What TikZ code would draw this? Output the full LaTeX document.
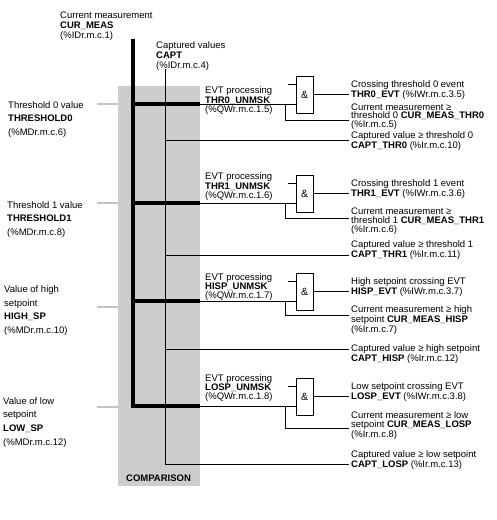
\documentclass[tikz,border=0pt]{standalone}
\usepackage{fontspec}
\setmainfont{Liberation Sans}
\definecolor{panel}{RGB}{205,205,205}
\definecolor{tick}{RGB}{195,195,195}
\begin{document}
\begin{tikzpicture}[x=1pt,y=-1pt,
  base/.style={inner sep=0pt, align=left, anchor=base west},
  rlab/.style={base, font=\fontsize{9.5}{8.7}\selectfont},
  ulab/.style={base, font=\fontsize{9.5}{9.3}\selectfont},
  tlab/.style={base, font=\fontsize{9.5}{10}\selectfont},
  llab/.style={base, font=\fontsize{9.5}{13.7}\selectfont},
  gate/.style={draw, line width=0.9pt, minimum width=17pt, minimum height=37pt, inner sep=0pt, font=\fontsize{10.5}{10.5}\selectfont},
  thick bus/.style={line width=3.5pt},
  thin/.style={line width=0.9pt},
  tickline/.style={draw=tick, line width=1.7pt}]
\useasboundingbox (0,0) rectangle (496,520);
\fill[panel] (118,86) rectangle (200,486);

% top labels (anchor = baseline of last line)
\node[tlab] (curmeas) at (60,38) {Current measurement\\\textbf{CUR\_MEAS}\\(\%IDr.m.c.1)};
\node[tlab] (capt) at (156,68) {Captured values\\\textbf{CAPT}\\(\%IDr.m.c.4)};

% left labels
\node[llab] (th0) at (8,135.4) {Threshold 0 value\\\textbf{THRESHOLD0}\\(\%MDr.m.c.6)};
\node[llab] (th1) at (7,235.4) {Threshold 1 value\\\textbf{THRESHOLD1}\\(\%MDr.m.c.8)};
\node[llab] (hisp) at (4,333.5) {Value of high\\setpoint\\\textbf{HIGH\_SP}\\(\%MDr.m.c.10)};
\node[llab] (losp) at (3,445.1) {Value of low\\setpoint\\\textbf{LOW\_SP}\\(\%MDr.m.c.12)};

\coordinate (t0a) at (97,104); \coordinate (t0b) at (118,104);
\coordinate (t1a) at (97,203); \coordinate (t1b) at (118,203);
\coordinate (t2a) at (97,307); \coordinate (t2b) at (118,307);
\coordinate (t3a) at (97,407); \coordinate (t3b) at (118,407);
\draw[tickline] (t0a) -- (t0b);
\draw[tickline] (t1a) -- (t1b);
\draw[tickline] (t2a) -- (t2b);
\draw[tickline] (t3a) -- (t3b);

\node[base, font=\fontsize{9.5}{10}\selectfont\bfseries] (cmp) at (126,481) {COMPARISON};

% bus coordinates
\coordinate (busTop) at (133,39);
\coordinate (b0) at (133,104); \coordinate (e0) at (200,104);
\coordinate (b1) at (133,203); \coordinate (e1) at (200,203);
\coordinate (b2) at (133,301); \coordinate (e2) at (200,301);
\coordinate (b3) at (133,406); \coordinate (e3) at (200,406);
\draw[thick bus] (busTop) -- (b3) -- (e3);
\draw[thick bus] (b0) -- (e0);
\draw[thick bus] (b1) -- (e1);
\draw[thick bus] (b2) -- (e2);

% captured values vertical
\coordinate (capTop) at (165.5,69);
\coordinate (c0) at (165.5,140); \coordinate (c1) at (165.5,255);
\coordinate (c2) at (165.5,349); \coordinate (c3) at (165.5,464);
\coordinate (ce0) at (349,140); \coordinate (ce1) at (349,255);
\coordinate (ce2) at (349,349); \coordinate (ce3) at (349,464);
\draw[thin] (capTop) -- (c3) -- (ce3);
\draw[thin] (c0) -- (ce0);
\draw[thin] (c1) -- (ce1);
\draw[thin] (c2) -- (ce2);

% UNMSK labels
\node[ulab] (u0) at (205,112.3) {EVT processing\\\textbf{THR0\_UNMSK}\\(\%QWr.m.c.1.5)};
\node[ulab] (u1) at (205,198.3) {EVT processing\\\textbf{THR1\_UNMSK}\\(\%QWr.m.c.1.6)};
\node[ulab] (u2) at (205,298.9) {EVT processing\\\textbf{HISP\_UNMSK}\\(\%QWr.m.c.1.7)};
\node[ulab] (u3) at (205,399.9) {EVT processing\\\textbf{LOSP\_UNMSK}\\(\%QWr.m.c.1.8)};

% gates
\node[gate] (g0) at (304.5,94.5) {\&};
\node[gate] (g1) at (304.5,193.5) {\&};
\node[gate] (g2) at (304.5,291.5) {\&};
\node[gate] (g3) at (304.5,396.5) {\&};

% gate 0 wiring
\coordinate (g0in) at (288,84);
\coordinate (g0br) at (285,104); \coordinate (g0bd) at (285,120); \coordinate (g0be) at (349,120);
\coordinate (g0o) at (349,94);
\draw[thin] (g0in) -- (g0in -| g0.west);
\draw[thin] (e0) -- (e0 -| g0.west);
\draw[thin] (g0br) -- (g0bd) -- (g0be);
\draw[thin] (g0o -| g0.east) -- (g0o);

% gate 1 wiring
\coordinate (g1in) at (288,183);
\coordinate (g1br) at (285,203); \coordinate (g1bd) at (285,218); \coordinate (g1be) at (349,218);
\coordinate (g1o) at (349,193);
\draw[thin] (g1in) -- (g1in -| g1.west);
\draw[thin] (e1) -- (e1 -| g1.west);
\draw[thin] (g1br) -- (g1bd) -- (g1be);
\draw[thin] (g1o -| g1.east) -- (g1o);

% gate 2 wiring
\coordinate (g2in) at (288,281);
\coordinate (g2br) at (285,301); \coordinate (g2bd) at (285,315); \coordinate (g2be) at (349,315);
\coordinate (g2o) at (349,291);
\draw[thin] (g2in) -- (g2in -| g2.west);
\draw[thin] (e2) -- (e2 -| g2.west);
\draw[thin] (g2br) -- (g2bd) -- (g2be);
\draw[thin] (g2o -| g2.east) -- (g2o);

% gate 3 wiring
\coordinate (g3in) at (288,386);
\coordinate (g3br) at (285,406); \coordinate (g3bd) at (285,428); \coordinate (g3be) at (349,428);
\coordinate (g3o) at (349,396);
\draw[thin] (g3in) -- (g3in -| g3.west);
\draw[thin] (e3) -- (e3 -| g3.west);
\draw[thin] (g3br) -- (g3bd) -- (g3be);
\draw[thin] (g3o -| g3.east) -- (g3o);

% right labels
\node[rlab] (ev0) at (351,97) {Crossing threshold 0 event\\\textbf{THR0\_EVT} (\%IWr.m.c.3.5)};
\node[rlab] (cm0) at (351,127.4) {Current measurement ≥\\threshold 0 \textbf{CUR\_MEAS\_THR0}\\(\%Ir.m.c.5)};
\node[rlab] (cv0) at (351,148.2) {Captured value ≥ threshold 0\\\textbf{CAPT\_THR0} (\%Ir.m.c.10)};

\node[rlab] (ev1) at (351,196) {Crossing threshold 1 event\\\textbf{THR1\_EVT} (\%IWr.m.c.3.6)};
\node[rlab] (cm1) at (351,232) {Current measurement ≥\\threshold 1 \textbf{CUR\_MEAS\_THR1}\\(\%Ir.m.c.6)};
\node[rlab] (cv1) at (351,257) {Captured value ≥ threshold 1\\\textbf{CAPT\_THR1} (\%Ir.m.c.11)};

\node[rlab] (ev2) at (351,294) {High setpoint crossing EVT\\\textbf{HISP\_EVT} (\%IWr.m.c.3.7)};
\node[rlab] (cm2) at (351,332) {Current measurement ≥ high\\setpoint \textbf{CUR\_MEAS\_HISP}\\(\%Ir.m.c.7)};
\node[rlab] (cv2) at (351,361) {Captured value ≥ high setpoint\\\textbf{CAPT\_HISP} (\%Ir.m.c.12)};

\node[rlab] (ev3) at (351,399) {Low setpoint crossing EVT\\\textbf{LOSP\_EVT} (\%IWr.m.c.3.8)};
\node[rlab] (cm3) at (351,437.4) {Current measurement ≥ low\\setpoint \textbf{CUR\_MEAS\_LOSP}\\(\%Ir.m.c.8)};
\node[rlab] (cv3) at (351,467.2) {Captured value ≥ low setpoint\\\textbf{CAPT\_LOSP} (\%Ir.m.c.13)};
\end{tikzpicture}
\end{document}
